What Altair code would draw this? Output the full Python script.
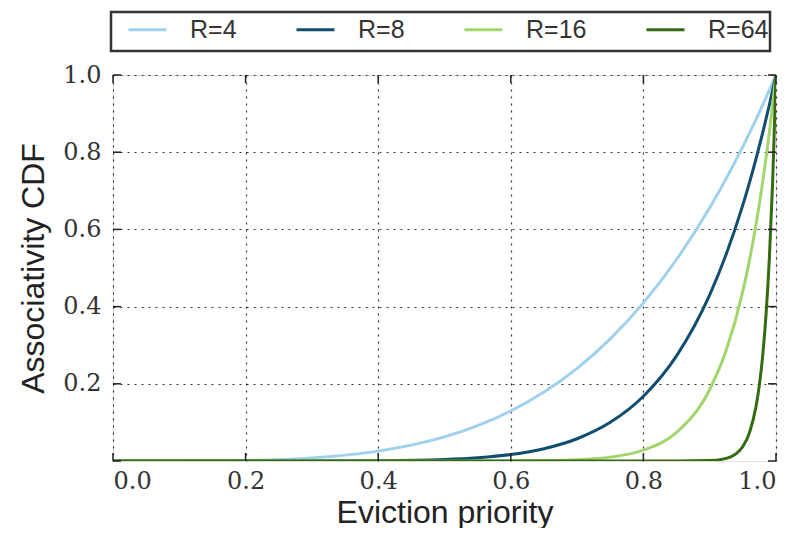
import altair as alt
import pandas as pd

# values
x_common = [0.0, 0.1, 0.2, 0.3, 0.4, 0.5, 0.55, 0.6, 0.65, 0.7, 0.75, 0.8, 0.85,
            0.9, 0.925, 0.95, 0.96, 0.97, 0.98, 0.99, 1.0]
y_r4 = [0.0, 0.0001, 0.0016, 0.0081, 0.0256, 0.0625, 0.0915, 0.1296, 0.1785, 0.2401,
        0.3164, 0.4096, 0.522, 0.6561, 0.7321, 0.8145, 0.8493, 0.8853, 0.9224, 0.9606, 1.0]
y_r8 = [0.0, 0.0, 0.0, 0.0001, 0.0007, 0.0039, 0.0084, 0.0168, 0.0319, 0.0576,
        0.1001, 0.1678, 0.2725, 0.4305, 0.536, 0.6634, 0.7214, 0.7837, 0.8508, 0.9227, 1.0]
y_r16 = [0.0, 0.0, 0.0, 0.0, 0.0, 0.0, 0.0001, 0.0003, 0.001, 0.0033,
         0.01, 0.0281, 0.0743, 0.1853, 0.2873, 0.4401, 0.5204, 0.6142, 0.7238, 0.8515, 1.0]
x_r64 = [0.0, 0.85, 0.9, 0.92, 0.94, 0.95, 0.96, 0.97, 0.975, 0.98, 0.985, 0.99, 0.995, 1.0]
y_r64 = [0.0, 0.0, 0.0012, 0.0048, 0.0191, 0.0375, 0.0733, 0.1424, 0.1978, 0.2744,
         0.3801, 0.5256, 0.7256, 1.0]

series_names = ["R=4", "R=8", "R=16", "R=64"]
series_colors = ["#9fd1ee", "#104e70", "#a2d56d", "#356a10"]
tick_values = [0.0, 0.2, 0.4, 0.6, 0.8, 1.0]

rows = []
for name, xs, ys in [("R=4", x_common, y_r4), ("R=8", x_common, y_r8),
                     ("R=16", x_common, y_r16), ("R=64", x_r64, y_r64)]:
    for i, (a, b) in enumerate(zip(xs, ys)):
        rows.append({"series": name, "x": a, "y": b, "order": i})
df = pd.DataFrame(rows)
ticks_df = pd.DataFrame({"t": tick_values})

W, H = 663, 386
xscale = alt.Scale(domain=[0, 1], nice=False, zero=False)
yscale = alt.Scale(domain=[0, 1], nice=False, zero=False)

label_font = "DejaVu Serif"
title_font = "Liberation Sans"

lines = alt.Chart(df).mark_line(strokeWidth=3, interpolate="monotone", clip=True).encode(
    x=alt.X("x:Q", scale=xscale,
            axis=alt.Axis(title="Eviction priority", values=tick_values, format=".1f",
                          grid=True, gridDash=[2, 5], gridColor="#000", gridWidth=1.2,
                          gridOpacity=0.8, domain=False, ticks=False,
                          labelFont=label_font, labelFontSize=24, labelColor="#333",
                          labelPadding=8, titleFont=title_font, titleFontSize=32,
                          titleFontWeight="normal", titleColor="#222", titlePadding=4)),
    y=alt.Y("y:Q", scale=yscale,
            axis=alt.Axis(title="Associativity CDF", values=[0.2, 0.4, 0.6, 0.8, 1.0],
                          format=".1f", grid=True, gridDash=[2, 5], gridColor="#000",
                          gridWidth=1.2, gridOpacity=0.8, domain=False, ticks=False,
                          labelFont=label_font, labelFontSize=24, labelColor="#333",
                          labelPadding=12, titleFont=title_font, titleFontSize=32,
                          titleFontWeight="normal", titleColor="#222", titlePadding=12)),
    color=alt.Color("series:N", scale=alt.Scale(domain=series_names, range=series_colors),
                    legend=alt.Legend(title=None, orient="none", legendX=14, legendY=-66,
                                      direction="horizontal", columns=4,
                                      symbolType="stroke", symbolSize=1444,
                                      symbolStrokeWidth=3, labelOffset=22,
                                      columnPadding=53, padding=0,
                                      labelFont=title_font, labelFontSize=25,
                                      labelColor="#333")),
    order="order:Q",
)

xt_bottom = alt.Chart(ticks_df).mark_rule(color="#222", strokeWidth=1.5).encode(
    x=alt.X("t:Q", scale=xscale), y=alt.value(H), y2=alt.value(H - 8))
xt_top = alt.Chart(ticks_df).mark_rule(color="#222", strokeWidth=1.5).encode(
    x=alt.X("t:Q", scale=xscale), y=alt.value(0), y2=alt.value(8))
yt_left = alt.Chart(ticks_df).mark_rule(color="#222", strokeWidth=1.5).encode(
    y=alt.Y("t:Q", scale=yscale), x=alt.value(0), x2=alt.value(8))
yt_right = alt.Chart(ticks_df).mark_rule(color="#222", strokeWidth=1.5).encode(
    y=alt.Y("t:Q", scale=yscale), x=alt.value(W), x2=alt.value(W - 8))

legend_box = alt.Chart(pd.DataFrame({"a": [0]})).mark_rect(
    fill="white", stroke="#333", strokeWidth=2.5, clip=False).encode(
    x=alt.value(-2), x2=alt.value(657), y=alt.value(-63), y2=alt.value(-24))

chart = alt.layer(legend_box, lines, xt_bottom, xt_top, yt_left, yt_right).properties(
    width=W, height=H,
    autosize=alt.AutoSizeParams(type="none"),
    padding={"left": 105, "top": 67, "right": 11, "bottom": 67},
).configure_view(stroke="#222", strokeWidth=2.2).configure(background="white")

chart.save("out.html", embed_options={"renderer": "svg", "actions": False})
